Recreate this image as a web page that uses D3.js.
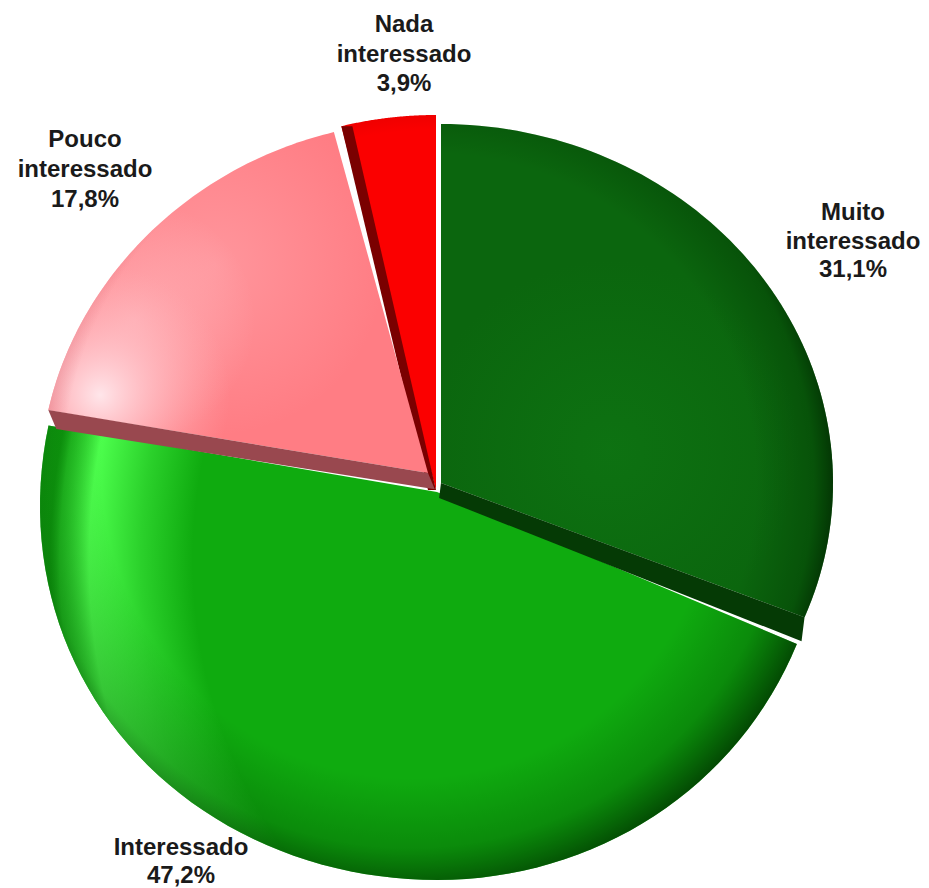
<!DOCTYPE html>
<html lang="pt">
<head>
<meta charset="UTF-8">
<title>Interesse</title>
<style>
  html, body { margin: 0; padding: 0; background: #fff; }
  svg { display: block; }
  .label { font-family: "Liberation Sans", Arial, sans-serif; font-weight: bold; font-size: 24px; fill: #1a1a1a; text-anchor: middle; }
</style>
<script src="https://cdnjs.cloudflare.com/ajax/libs/d3/7.8.5/d3.min.js"></script>
</head>
<body>
<svg width="929" height="888"></svg>
<script>
// data
var categories = ["Muito interessado", "Interessado", "Pouco interessado", "Nada interessado"];
var values = [31.1, 47.2, 17.8, 3.9];
var valueLabels = ["31,1%", "47,2%", "17,8%", "3,9%"];

// one entry per slice: the face of each slice has its own apex and radii (tilted picture)
var faces = [
  { cx: 441, cy: 483, rxL: 392, rxR: 392, ry: 359, sagL: 0, sagR: 0 },
  { cx: 437, cy: 492, rxL: 397, rxR: 388, ry: 388, sagL: 14, sagR: 8 },
  { cx: 428, cy: 473, rxL: 388, rxR: 388, ry: 352, sagL: 10, sagR: 10 },
  { cx: 436, cy: 490, rxL: 390, rxR: 390, ry: 375, sagL: 0, sagR: 0 }
];
var baseColors = ["#0b660e", "#0fab0f", "#ff7d84", "#fb0000"];
var sideColors = ["#053a05", null, "#99484f", "#7a0000"];
// side wall: which edge it hangs on, offset at the rim, share of it at the apex, apex shift
var sides = [
  { edge: "end", dx: -3, dy: 24, taper: 0.62, ax: 0 },
  null,
  { edge: "start", dx: 8, dy: 19, taper: 0.85, ax: 0 },
  { edge: "start", dx: 11, dy: 0, taper: 0, ax: -8 }
];
var shades = [
  { fx: 430, fy: 480, r: 408, stops: [[0.8, "#003000", 0], [0.94, "#003000", 0.35], [1, "#002000", 0.8]] },
  { fx: 410, fy: 470, r: 440, stops: [[0.7, "#004000", 0], [0.86, "#004000", 0.3], [0.96, "#003000", 0.75], [1, "#002000", 0.95]] },
  { fx: 430, fy: 475, r: 395, stops: [[0.93, "#c04050", 0], [1, "#c04050", 0.3]] },
  { fx: 430, fy: 480, r: 380, stops: [[0.92, "#a00000", 0], [1, "#a00000", 0.25]] }
];
var glows = [
  [{ fx: 610, fy: 450, r: 190, stops: [[0, "#0f7a14", 0.6], [1, "#0f7a14", 0]] }],
  [{ fx: 700, fy: 560, r: 650, stops: [[0.78, "#4dff4d", 0], [0.86, "#4dff4d", 0.45], [0.94, "#4dff4d", 1], [0.985, "#2fd02f", 0.6], [1, "#109010", 0.4]] }],
  [
    { fx: 215, fy: 265, r: 170, stops: [[0, "#ffb4ba", 0.45], [1, "#ffb4ba", 0]] },
    { fx: 135, fy: 320, r: 120, stops: [[0, "#ffd0d6", 0.45], [1, "#ffd0d6", 0]] },
    { fx: 100, fy: 395, r: 130, stops: [[0, "#fff0f4", 0.9], [0.4, "#ffd0d6", 0.6], [1, "#ffb0b6", 0]] }
  ],
  []
];
var labelLines = [
  { x: 853, y: 220, step: 28.5, lines: ["Muito", "interessado", valueLabels[0]] },
  { x: 181, y: 855, step: 28, lines: ["Interessado", valueLabels[1]] },
  { x: 85, y: 147, step: 30, lines: ["Pouco", "interessado", valueLabels[2]] },
  { x: 404, y: 32, step: 29.5, lines: ["Nada", "interessado", valueLabels[3]] }
];

var svg = d3.select("svg");
var defs = svg.append("defs");

var arcs = d3.pie().sort(null).value(function(d) { return d; })(values);

// project an angle on a slice's tilted rim
function rimPoint(f, a) {
  var s = Math.sin(a);
  var x = (s < 0 ? f.rxL : f.rxR) * s;
  var y = -f.ry * Math.cos(a) + (s < 0 ? f.sagL : f.sagR) * s * s;
  return [f.cx + x, f.cy + y];
}

function slicePath(d, i) {
  var f = faces[i];
  var pts = d3.range(0, 81).map(function(k) {
    return rimPoint(f, d.startAngle + (d.endAngle - d.startAngle) * k / 80);
  });
  pts.unshift([f.cx, f.cy]);
  return d3.line()(pts) + "Z";
}

function sidePath(d, i) {
  var f = faces[i], s = sides[i];
  var rim = rimPoint(f, s.edge === "start" ? d.startAngle : d.endAngle);
  return d3.line()([
    [f.cx + s.ax, f.cy], rim, [rim[0] + s.dx, rim[1] + s.dy],
    [f.cx + s.dx * s.taper, f.cy + s.dy * s.taper]
  ]) + "Z";
}

function addGradient(id, g) {
  var grad = defs.append("radialGradient").attr("id", id)
    .attr("gradientUnits", "userSpaceOnUse")
    .attr("cx", g.fx).attr("cy", g.fy).attr("r", g.r);
  g.stops.forEach(function(s) {
    grad.append("stop").attr("offset", s[0]).attr("stop-color", s[1]).attr("stop-opacity", s[2]);
  });
}

arcs.forEach(function(d, i) {
  addGradient("shade" + i, shades[i]);
  glows[i].forEach(function(g, k) { addGradient("glow" + i + "-" + k, g); });
});

// green goes first so the neighbours' walls sit on top of it
var order = [1, 0, 3, 2];
var slice = svg.selectAll("g.slice").data(order).enter().append("g").attr("class", "slice");

slice.each(function(i) {
  var g = d3.select(this), d = arcs[i], p = slicePath(d, i);
  g.append("path").attr("d", p).attr("fill", baseColors[i]);
  glows[i].forEach(function(gl, k) {
    g.append("path").attr("d", p).attr("fill", "url(#glow" + i + "-" + k + ")");
  });
  g.append("path").attr("d", p).attr("fill", "url(#shade" + i + ")");
  if (sides[i]) g.append("path").attr("d", sidePath(d, i)).attr("fill", sideColors[i]);
});

labelLines.forEach(function(l) {
  var t = svg.append("text").attr("class", "label");
  l.lines.forEach(function(s, k) {
    t.append("tspan").attr("x", l.x).attr("y", l.y + k * l.step).text(s);
  });
});
</script>
</body>
</html>
